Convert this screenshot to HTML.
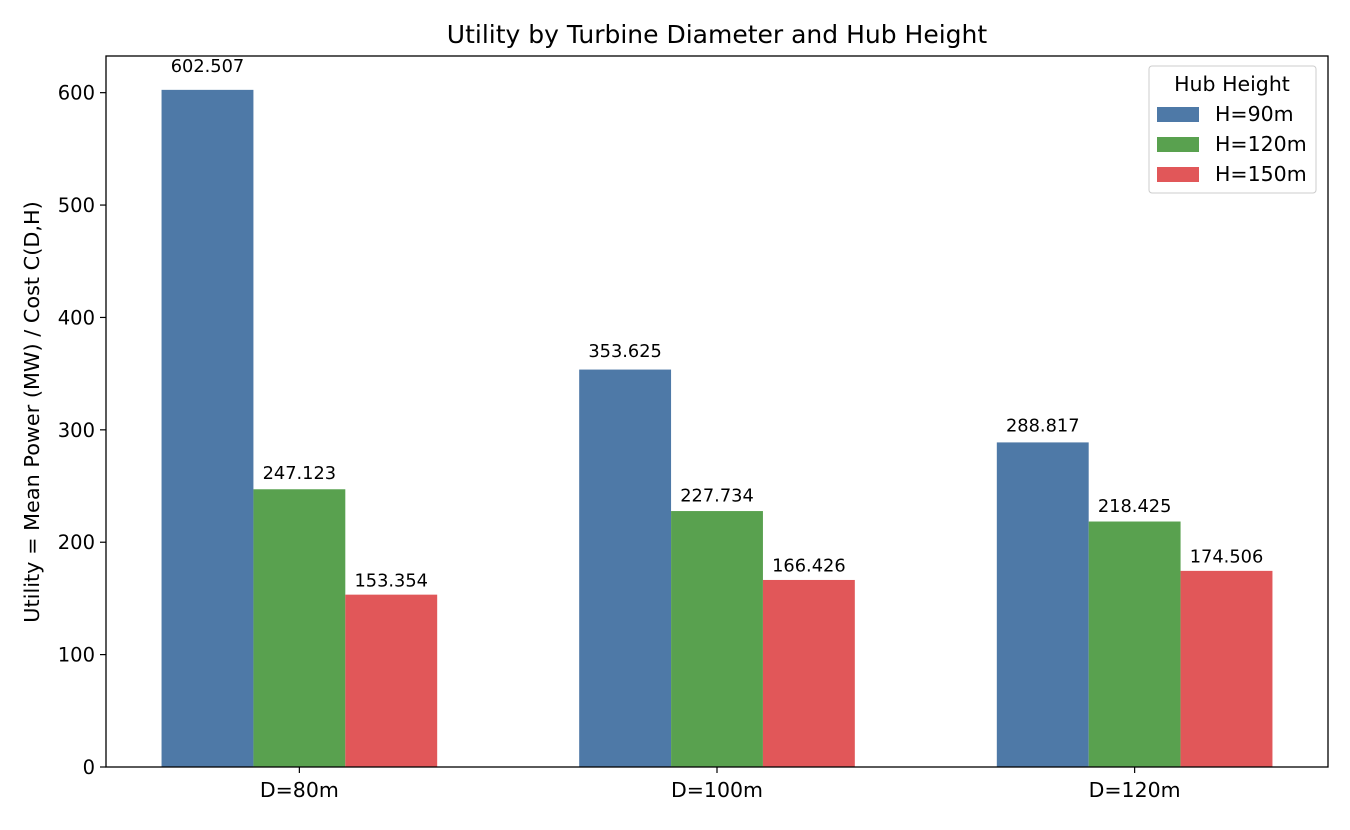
<!DOCTYPE html>
<html><head><meta charset="utf-8"><style>body{margin:0;background:#fff}svg{font-family:"DejaVu Sans","Liberation Sans",sans-serif}</style></head>
<body>
<svg id="chart" width="1350" height="825" xmlns="http://www.w3.org/2000/svg">
<rect width="1350" height="825" fill="#fff"/>
<text x="717" y="43" text-anchor="middle" font-size="25">Utility by Turbine Diameter and Hub Height</text>
<g id="plot"></g>
<rect x="106" y="56" width="1222" height="711" fill="none" stroke="#000" stroke-width="1.3"/>
<text transform="translate(39,412) rotate(-90)" text-anchor="middle" font-size="20.8">Utility = Mean Power (MW) / Cost C(D,H)</text>
<g>
<rect x="1149" y="66" width="167" height="127" rx="3" fill="#fff" stroke="#ccc"/>
<text x="1232" y="91" text-anchor="middle" font-size="20.5">Hub Height</text>
<g id="legend-entries"></g>
</g>
</svg>
<script>
const categories = ["D=80m","D=100m","D=120m"];
const seriesNames = ["H=90m","H=120m","H=150m"];
const h90 = [602.507,353.625,288.817];
const h120 = [247.123,227.734,218.425];
const h150 = [153.354,166.426,174.506];
const yTicks = [0,100,200,300,400,500,600];
const colors = ["#4e79a7","#59a14f","#e15759"];
const series=[h90,h120,h150];
const NS="http://www.w3.org/2000/svg";
const L=106,R=1328,T=56,B=767,xmin=-0.463,xmax=2.463,ymax=632.63,bw=0.22;
const xs=v=>L+(v-xmin)/(xmax-xmin)*(R-L);
const ys=v=>B-v/ymax*(B-T);
const g=document.getElementById('plot');
function mk(t,a,txt){const e=document.createElementNS(NS,t);for(const k in a)e.setAttribute(k,a[k]);if(txt!==undefined)e.textContent=txt;return e;}
yTicks.forEach(t=>{
 const l=mk('line',{x1:L-6,x2:L,y1:ys(t),y2:ys(t),stroke:'#000','stroke-width':1.2});
 
 
 g.appendChild(l);
 const tx=mk('text',{x:L-11,y:ys(t)+7,'text-anchor':'end','font-size':19.5},String(t));
 
 
 g.appendChild(tx);
});
categories.forEach((c,i)=>{
 const l=mk('line',{x1:xs(i),x2:xs(i),y1:B,y2:B+6,stroke:'#000','stroke-width':1.2});
 
 
 g.appendChild(l);
 const tx=mk('text',{x:xs(i),y:B+30,'text-anchor':'middle','font-size':20.5},c);
 
 
 g.appendChild(tx);
 series.forEach((s,j)=>{
  const x0=xs(i+(j-1.5)*bw),x1=xs(i+(j-0.5)*bw);
  const r=mk('rect',{x:x0,y:ys(s[i]),width:x1-x0,height:B-ys(s[i]),fill:colors[j]});
  
  
  g.appendChild(r);
  const v=mk('text',{x:(x0+x1)/2,y:ys(s[i]*1.02)-4.5,'text-anchor':'middle','font-size':17.8},s[i].toFixed(3));
  
  
  g.appendChild(v);
 });
});
const le=document.getElementById('legend-entries');
seriesNames.forEach((n,j)=>{
 const y=107+j*30;
 const r=mk('rect',{x:1157,y:y,width:42,height:15,fill:colors[j]});
 
 
 le.appendChild(r);
 const t=mk('text',{x:1215,y:y+14,'font-size':20.5},n);
 
 
 le.appendChild(t);
});
</script>
</body></html>
